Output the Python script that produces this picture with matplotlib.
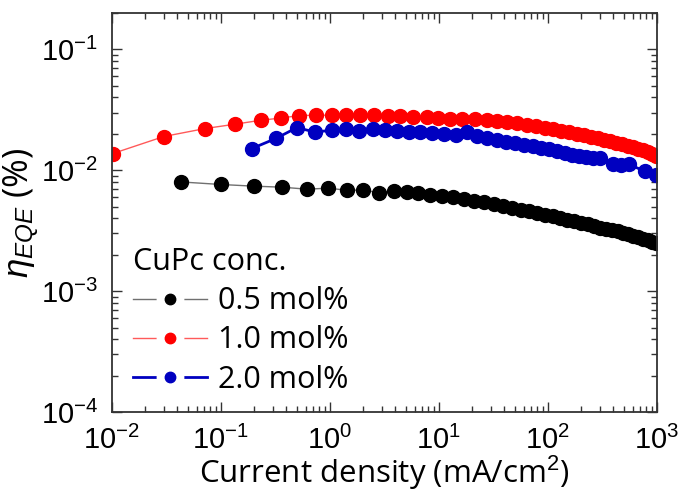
import matplotlib
matplotlib.use("Agg")
import matplotlib.pyplot as plt
from matplotlib.lines import Line2D
from matplotlib.ticker import LogLocator, NullFormatter

# current density (mA/cm2) and EQE (%)
j_05 = [0.0430, 0.100, 0.201, 0.363, 0.615, 0.960, 1.43, 2.01, 2.82, 3.86, 5.08,
        6.41, 8.26, 10.7, 13.4, 16.9, 20.9, 25.9, 32.0, 38.6, 46.8, 56.5, 67.0,
        79.3, 93.8, 111, 129, 149, 173, 201, 233, 264, 300, 340, 386, 439, 488,
        542, 603, 670, 745, 826, 900, 979]
eqe_05 = [0.00800, 0.00762, 0.00738, 0.00724, 0.00697, 0.00710, 0.00684, 0.00684,
          0.00654, 0.00674, 0.00662, 0.00642, 0.00621, 0.00613, 0.00595, 0.00576,
          0.00560, 0.00544, 0.00524, 0.00504, 0.00490, 0.00472, 0.00458, 0.00441,
          0.00429, 0.00417, 0.00401, 0.00390, 0.00379, 0.00368, 0.00358, 0.00344,
          0.00335, 0.00328, 0.00322, 0.00313, 0.00304, 0.00296, 0.00288, 0.00279,
          0.00272, 0.00264, 0.00256, 0.00249]

j_10 = [0.0102, 0.0300, 0.0713, 0.134, 0.233, 0.355, 0.520, 0.745, 1.04, 1.40,
        1.88, 2.53, 3.40, 4.39, 5.77, 7.76, 9.79, 12.6, 16.3, 21.4, 27.5, 34.0,
        42.1, 52.0, 64.1, 77.6, 93.8, 111, 132, 156, 185, 214, 248, 288, 327,
        371, 421, 478, 542, 603, 670, 745, 826, 900, 979]
eqe_10 = [0.01374, 0.0190, 0.0221, 0.0240, 0.0259, 0.0270, 0.0283, 0.0285, 0.0285,
          0.0285, 0.0285, 0.0285, 0.0282, 0.0279, 0.0276, 0.0273, 0.0270, 0.0267,
          0.0267, 0.0264, 0.0259, 0.0254, 0.0251, 0.0245, 0.0238, 0.0231, 0.0224,
          0.0218, 0.0212, 0.0206, 0.0200, 0.0195, 0.0189, 0.0184, 0.0179, 0.0174,
          0.0169, 0.0164, 0.0159, 0.0155, 0.0151, 0.0146, 0.0141, 0.0135, 0.0131]

j_20 = [0.192, 0.320, 0.498, 0.728, 1.04, 1.40, 1.85, 2.48, 3.20, 4.12, 5.31,
        6.70, 8.63, 11.1, 14.3, 18.1, 22.3, 27.5, 34.0, 41.2, 49.8, 60.2, 72.8,
        86.3, 102, 121, 143, 166, 192, 223, 259, 300, 394, 468, 553, 776, 979]
eqe_20 = [0.0151, 0.0183, 0.0225, 0.0207, 0.0214, 0.0218, 0.0210, 0.0221, 0.0217,
          0.0211, 0.0208, 0.0206, 0.0202, 0.0198, 0.0195, 0.0206, 0.0193, 0.0186,
          0.0179, 0.0172, 0.0167, 0.0162, 0.0158, 0.0153, 0.0149, 0.0145, 0.0138,
          0.0134, 0.0132, 0.0129, 0.0127, 0.0126, 0.0112, 0.0111, 0.0112, 0.00981,
          0.00909]

labels = ["0.5 mol%", "1.0 mol%", "2.0 mol%"]

plt.rcParams["mathtext.fontset"] = "custom"
plt.rcParams["mathtext.rm"] = "Liberation Sans"
plt.rcParams["mathtext.it"] = "Liberation Sans:italic"

fig = plt.figure(figsize=(6.82, 4.97), dpi=100)
ax = fig.add_axes([0.164, 0.171, 0.799, 0.803])

# (marker colour, line colour, line width)
styles = [("black", "#707070", 1.0), ("#ff0000", "#ff5a5a", 1.0), ("#0000c0", "#0000c0", 2.0)]
series = [(j_05, eqe_05), (j_10, eqe_10), (j_20, eqe_20)]

ms = 10
handles = []
for (x, y), (mc, lc, lw) in zip(series, styles):
    ax.plot(x, y, "-", color=lc, lw=lw)
    ax.plot(x, y, "o", color=mc, ms=ms, mec=mc)
    # legend entry: line, white gap, small dot
    handles.append((Line2D([], [], color=lc, lw=lw),
                    Line2D([], [], ls="none", marker="o", ms=20, mfc="white", mec="none"),
                    Line2D([], [], ls="none", marker="o", ms=7.5, mfc=mc, mec=mc)))

ax.set_xscale("log")
ax.set_yscale("log")
ax.set_xlim(1e-2, 1e3)
ax.set_ylim(1e-4, 0.2)

ax.xaxis.set_minor_locator(LogLocator(base=10, subs=range(2, 10), numticks=20))
ax.yaxis.set_minor_locator(LogLocator(base=10, subs=range(2, 10), numticks=20))
ax.xaxis.set_minor_formatter(NullFormatter())
ax.yaxis.set_minor_formatter(NullFormatter())
ax.set_yticks([1e-4, 1e-3, 1e-2, 1e-1])

ax.tick_params(which="both", direction="in", top=True, right=True,
               width=1.0, color="#333333")
ax.tick_params(which="major", length=7, labelsize=21)
ax.tick_params(axis="x", which="major", pad=10)
ax.tick_params(axis="y", which="major", pad=10)
ax.tick_params(which="minor", length=4)
for lab in ax.get_xticklabels() + ax.get_yticklabels():
    lab.set_fontfamily("Liberation Sans")
for s in ax.spines.values():
    s.set_linewidth(1.3)
    s.set_color("#333333")

ax.set_xlabel("Current density (mA/cm$^{2}$)", fontsize=22.5,
              fontfamily="Open Sans", labelpad=-1)
ax.set_ylabel(r"$\eta_{EQE}$ (%)", fontsize=25, fontfamily="Open Sans",
              labelpad=0)
ax.yaxis.set_label_coords(-0.13, 0.5)

leg = ax.legend(handles, labels, title="CuPc conc.", loc="lower left",
                bbox_to_anchor=(0.0, -0.01), frameon=False, handlelength=2.4,
                handletextpad=0.36, labelspacing=0.3, borderpad=0.2,
                alignment="left", prop={"family": "Open Sans", "size": 22})
leg.get_title().set_fontfamily("Open Sans")
leg.get_title().set_fontsize(22)

fig.savefig("out.png", dpi=100)
